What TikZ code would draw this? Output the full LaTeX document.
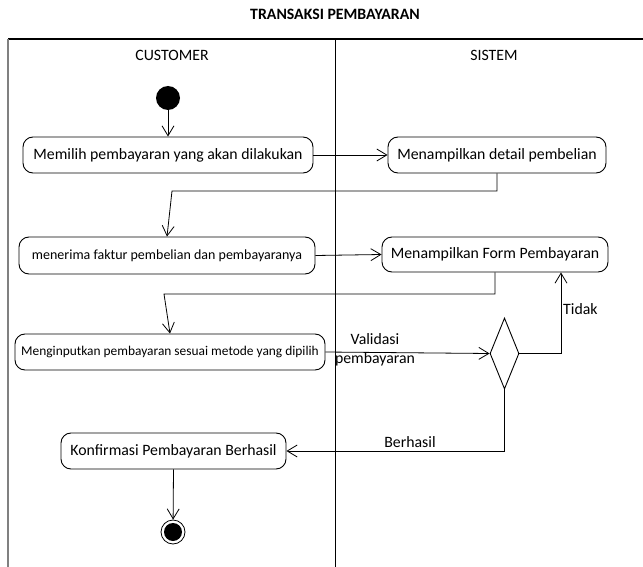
\documentclass[tikz,border=0pt]{standalone}
\usepackage{fontspec}
\setmainfont{Carlito}
\usetikzlibrary{arrows.meta,shapes.geometric}
\begin{document}
\begin{tikzpicture}[x=1pt,y=-1pt,
  act/.style={draw, rounded corners=10pt, line width=0.9pt, inner sep=0pt,
    font=\fontsize{15.8}{18}\selectfont},
  small/.style={font=\fontsize{14}{16}\selectfont},
  flow/.style={line width=0.8pt,
    -{Straight Barb[length=10pt,width=12pt,line width=0.8pt]}},
  lbl/.style={font=\fontsize{15.8}{18}\selectfont, inner sep=0pt},
  lane/.style={line width=1pt}
]
\useasboundingbox (0,0) rectangle (643,567);

% title and swimlanes
\node[font=\bfseries\fontsize{15.8}{18}\selectfont] (title) at (335,14) {TRANSAKSI PEMBAYARAN};
\draw[line width=1.2pt] (8,39) -- (643,39);
\draw[line width=2pt, gray] (8,39) -- (8,567);
\draw[lane] (335,39) -- (335,567);
\node[lbl] (laneA) at (172,55) {CUSTOMER};
\node[lbl] (laneB) at (494,55) {SISTEM};

% start and end
\node[circle, fill=black, minimum size=24pt, inner sep=0pt] (start) at (168,98) {};
\node[circle, draw, line width=0.8pt, minimum size=24pt, inner sep=0pt] (end) at (173,532) {};
\node[circle, fill=black, minimum size=18pt, inner sep=0pt] (endin) at (173,532) {};

% activities
\node[act, minimum width=290pt, minimum height=36pt] (b1) at (168,155) {Memilih pembayaran yang akan dilakukan};
\node[act, minimum width=218pt, minimum height=36pt] (b2) at (497,155) {Menampilkan detail pembelian};
\node[act, small, minimum width=296pt, minimum height=37pt] (b3) at (167,255.5) {menerima faktur pembelian dan pembayaranya};
\node[act, minimum width=226pt, minimum height=35pt] (b4) at (495,254.5) {Menampilkan Form Pembayaran};
\node[act, font=\fontsize{13.4}{16}\selectfont, minimum width=310pt, minimum height=36pt] (b5) at (170,352) {Menginputkan pembayaran sesuai metode yang dipilih};
\node[act, minimum width=225pt, minimum height=36pt] (b6) at (173.5,451) {Konfirmasi Pembayaran Berhasil};

% decision
\node[diamond, draw, line width=0.9pt, minimum width=29pt, minimum height=71pt, inner sep=0pt] (dec) at (504.5,353.5) {};

% bends
\coordinate (k1) at (172,191);
\coordinate (k2) at (164,294);
\coordinate (k3) at (561,353.5);

% flows
\draw[flow] (start) -- (b1.north);
\draw[flow] (b1.east) -- (b2.west);
\draw[flow] (b2.south) |- (k1) -- (b3.north);
\draw[flow] (b3.east) -- (b4.west);
\draw[flow] (b4.south) |- (k2) -- (b5.north);
\draw[flow] (b5.east) -- (dec.west);
\draw[flow] (dec.east) -- (k3) -- (k3 |- b4.south);
\draw[flow] (dec.south) |- (b6.east);
\draw[flow] (b6.south) -- (end);

% labels
\node[lbl] (v1) at (375,339) {Validasi};
\node[lbl] (v2) at (375,359) {pembayaran};
\node[lbl, anchor=west] (tidak) at (563,309) {Tidak};
\node[lbl] (ok) at (410,442) {Berhasil};
\end{tikzpicture}
\end{document}
